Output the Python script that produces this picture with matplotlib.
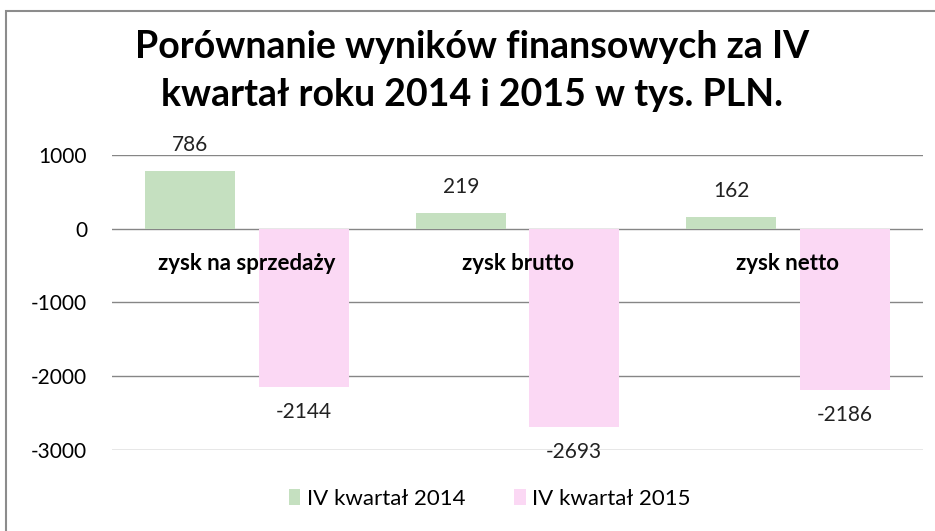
import numpy as np
import matplotlib
matplotlib.use('Agg')
import matplotlib.pyplot as plt
from matplotlib.patches import Rectangle, Patch

categories = ['zysk na sprzedaży', 'zysk brutto', 'zysk netto']
series_names = ['IV kwartał 2014', 'IV kwartał 2015']
values_2014 = [786, 219, 162]
values_2015 = [-2144, -2693, -2186]
yticks = [1000, 0, -1000, -2000, -3000]

title_text = 'Porównanie wyników finansowych za IV\nkwartał roku 2014 i 2015 w tys. PLN.'

green = '#C5E0C0'
pink = '#FBD8F4'
grid_color = '#868686'

plt.rcParams['font.family'] = ['Lato', 'DejaVu Sans']

fig = plt.figure(figsize=(9.35, 5.31), dpi=100)
fig.patch.set_facecolor('white')

# ramka wykresu (jak w Excelu)
fig.patches.append(Rectangle((6 / 935, -0.1), 1.2, 1 - 11 / 531 + 0.1,
                             transform=fig.transFigure, fill=False,
                             edgecolor='#8C8C8C', linewidth=1.5))

ax = fig.add_axes([112 / 935, 1 - 450 / 531, 811 / 935, 295 / 531])
x = np.arange(len(categories))
width = 0.333
offset = 0.21

for yv in yticks:
    ax.axhline(yv, color=grid_color, linewidth=1.0, zorder=0)

b1 = ax.bar(x - offset, values_2014, width, color=green, zorder=2)
b2 = ax.bar(x + offset, values_2015, width, color=pink, zorder=2)

# etykiety danych
for rect, v in zip(b1, values_2014):
    ax.annotate(str(v), (rect.get_x() + rect.get_width() / 2, v),
                xytext=(0, 26), textcoords='offset pixels',
                ha='center', va='center', fontsize=15, color='#222222')
for rect, v in zip(b2, values_2015):
    ax.annotate(str(v), (rect.get_x() + rect.get_width() / 2, v),
                xytext=(0, -25), textcoords='offset pixels',
                ha='center', va='center', fontsize=15, color='#222222')

# nazwy kategorii przy osi 0
for xi, name in zip(x, categories):
    ax.annotate(name, (xi, 0), xytext=(0, -35), textcoords='offset pixels',
                ha='center', va='center', fontsize=16, fontweight='bold',
                zorder=3, annotation_clip=False)

ax.set_xlim(-0.5, 2.5)
ax.set_ylim(-3000, 1000)
ax.set_yticks(yticks)
ax.set_yticklabels([str(t) for t in yticks], fontsize=15)
ax.set_xticks([])
ax.tick_params(axis='y', length=0, pad=18)
for s in ax.spines.values():
    s.set_visible(False)
ax.set_facecolor('none')

fig.text(472 / 935, 1 - 71 / 531, title_text, ha='center', va='center',
         fontsize=27, fontweight='bold', linespacing=1.5)

handles = [Patch(facecolor=green, edgecolor='none'), Patch(facecolor=pink, edgecolor='none')]
fig.legend(handles, series_names, loc='center', bbox_to_anchor=(490 / 935, 1 - 499 / 531),
           ncol=2, frameon=False, fontsize=16, handlelength=0.5, handleheight=0.7,
           handletextpad=0.3, columnspacing=2.2)

plt.savefig('out.png', dpi=100)
plt.close(fig)
